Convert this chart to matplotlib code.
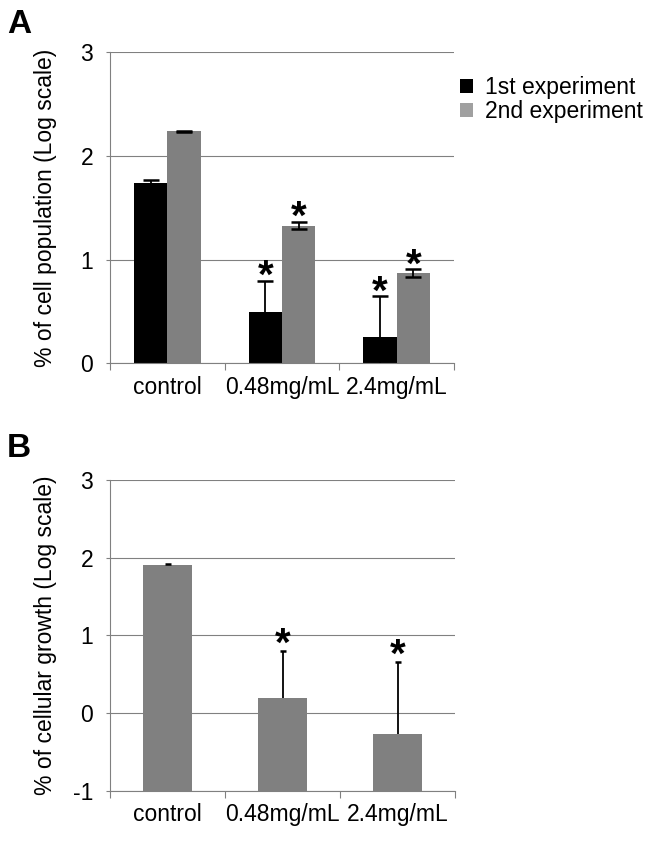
import matplotlib
matplotlib.use("Agg")
import matplotlib.pyplot as plt
import numpy as np
from matplotlib.patches import Patch

plt.rcParams['font.family'] = ['Liberation Sans', 'DejaVu Sans']

categories = ["control", "0.48mg/mL", "2.4mg/mL"]
series_names = ["1st experiment", "2nd experiment"]

# Panel A (log scale values)
a_first = [1.74, 0.49, 0.25]
a_first_err = [0.025, 0.30, 0.395]
a_second = [2.235, 1.325, 0.87]
a_second_err = [0.006, 0.035, 0.035]
a_first_sig = [False, True, True]
a_second_sig = [False, True, True]

# Panel B
b_values = [1.905, 0.19, -0.27]
b_err = [0.02, 0.61, 0.93]
b_sig = [False, True, True]

a_yticks = [0, 1, 2, 3]
b_yticks = [-1, 0, 1, 2, 3]

BLACK = "#000000"
GRAY = "#808080"
LEG_GRAY = "#a0a0a0"
GRID = "#808080"
FS = 16.5

fig = plt.figure(figsize=(6.53, 8.42), dpi=100)
W, H = 653, 842

def px_axes(left, top, right, bottom):
    return fig.add_axes([left / W, 1 - bottom / H, (right - left) / W, (bottom - top) / H])

axA = px_axes(110, 52, 454, 363.3)
axB = px_axes(110, 480, 455, 790.7)

def style(ax, yticks, ylabel):
    ax.set_xlim(0.5, len(categories) + 0.5)
    ax.set_ylim(yticks[0], yticks[-1])
    ax.set_yticks(yticks)
    ax.set_yticklabels([str(t) for t in yticks], fontsize=FS)
    ax.set_xticks(np.arange(1, len(categories) + 1))
    ax.set_xticklabels(categories, fontsize=FS)
    ax.set_xticks(np.arange(0.5, len(categories) + 1, 1.0), minor=True)
    ax.tick_params(axis='x', which='major', length=0, pad=9)
    ax.tick_params(axis='x', which='minor', length=5, width=0.8, color=GRID, direction='out')
    ax.tick_params(axis='y', which='major', length=3, width=0.8, color=GRID, pad=9)
    for s in ['top', 'right']:
        ax.spines[s].set_visible(False)
    for s in ['left', 'bottom']:
        ax.spines[s].set_color(GRID)
        ax.spines[s].set_linewidth(0.8)
    ax.yaxis.grid(True, color=GRID, linewidth=0.8)
    ax.set_axisbelow(True)
    ax.set_ylabel(ylabel, fontsize=FS)
    ax.yaxis.set_label_coords(-0.155, 0.5)

style(axA, a_yticks, "% of cell population (Log scale)")
style(axB, b_yticks, "% of cellular growth (Log scale)")

x = np.arange(1, len(categories) + 1)
wA = 0.29
axA.bar(x - wA / 2, a_first, wA, color=BLACK, zorder=2)
axA.bar(x + wA / 2, a_second, wA, color=GRAY, zorder=2)
axA.errorbar(x - wA / 2, a_first, yerr=a_first_err, fmt='none', ecolor='black',
             elinewidth=1.3, capsize=5.5, capthick=1.8, zorder=3)
axA.errorbar(x + wA / 2, a_second, yerr=a_second_err, fmt='none', ecolor='black',
             elinewidth=1.3, capsize=5.5, capthick=1.8, zorder=3)

def star(ax, xp, ytop, off):
    ax.annotate("*", xy=(xp, ytop), xytext=(0, off), textcoords='offset points',
                ha='center', va='baseline', fontsize=29, fontweight='bold', zorder=4)

for i in range(len(categories)):
    if a_first_sig[i]:
        star(axA, x[i] - wA / 2, a_first[i] + a_first_err[i], -5)
    if a_second_sig[i]:
        star(axA, x[i] + wA / 2, a_second[i] + a_second_err[i], -5)

wB = 0.42
b_top = np.array(b_values) + np.array(b_err)
axB.bar(x, np.array(b_values) - b_yticks[0], wB, bottom=b_yticks[0], color=GRAY, zorder=2)
axB.vlines(x, b_values, b_top, colors='black', linewidth=1.3, zorder=3)
axB.plot(x, b_top, linestyle='none', marker='_', markersize=4, markeredgewidth=1.8,
         color='black', zorder=3)
for i in range(len(categories)):
    if b_sig[i]:
        star(axB, x[i], b_top[i], -3.5)

handles = [Patch(facecolor=BLACK, edgecolor='none'), Patch(facecolor=LEG_GRAY, edgecolor='none')]
fig.legend(handles, series_names, loc='upper left', bbox_to_anchor=(460 / W, 1 - 76 / H),
           frameon=False, fontsize=FS, handlelength=0.55, handleheight=0.55,
           handletextpad=0.55, labelspacing=0.05, borderpad=0, borderaxespad=0)

fig.text(7 / W, 1 - 33 / H, "A", fontsize=24, fontweight='bold', ha='left', va='baseline')
fig.text(7 / W, 1 - 457 / H, "B", fontsize=24, fontweight='bold', ha='left', va='baseline')

fig.savefig("out.png", dpi=100)
